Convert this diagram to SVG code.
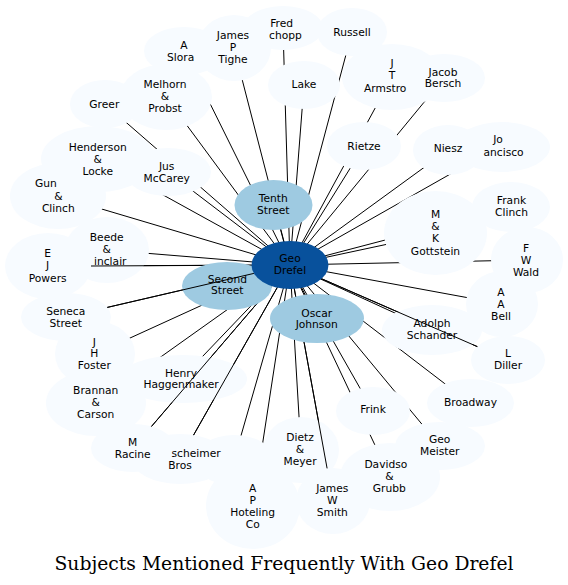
<svg xmlns="http://www.w3.org/2000/svg" width="568" height="585" viewBox="0 0 568 585">
<style>
.e line{stroke:#000;stroke-width:1}
.l ellipse{fill:#f7fbff}
.m ellipse{fill:#9ecae1}
.c ellipse{fill:#08519c}
text{font-family:"DejaVu Sans",sans-serif;font-size:10.7px;fill:#000;text-anchor:middle}
text.s{text-anchor:start}
text.x{text-anchor:end}
.title{font-family:"DejaVu Serif",serif;font-size:18px}
</style>
<rect width="568" height="585" fill="#fff"/>
<g id="edges" class="e">
<line x1="290" y1="265" x2="184" y2="51"/>
<line x1="290" y1="265" x2="234" y2="48"/>
<line x1="290" y1="265" x2="283" y2="28"/>
<line x1="290" y1="265" x2="352" y2="32"/>
<line x1="290" y1="265" x2="304" y2="85"/>
<line x1="290" y1="265" x2="392" y2="77"/>
<line x1="290" y1="265" x2="444" y2="78"/>
<line x1="290" y1="265" x2="364" y2="146"/>
<line x1="290" y1="265" x2="448" y2="150"/>
<line x1="290" y1="265" x2="498" y2="147"/>
<line x1="290" y1="265" x2="511" y2="207"/>
<line x1="290" y1="265" x2="435" y2="234"/>
<line x1="290" y1="265" x2="527" y2="260"/>
<line x1="290" y1="265" x2="502" y2="304"/>
<line x1="290" y1="265" x2="432" y2="330"/>
<line x1="290" y1="265" x2="508" y2="360"/>
<line x1="290" y1="265" x2="470" y2="403"/>
<line x1="290" y1="265" x2="373" y2="411"/>
<line x1="290" y1="265" x2="440" y2="446"/>
<line x1="290" y1="265" x2="390" y2="477"/>
<line x1="290" y1="265" x2="333" y2="501"/>
<line x1="290" y1="265" x2="301" y2="450"/>
<line x1="290" y1="265" x2="253" y2="506"/>
<line x1="290" y1="265" x2="234" y2="460"/>
<line x1="290" y1="265" x2="180" y2="459"/>
<line x1="290" y1="265" x2="133" y2="448"/>
<line x1="290" y1="265" x2="96" y2="403"/>
<line x1="290" y1="265" x2="181" y2="379"/>
<line x1="290" y1="265" x2="95" y2="354"/>
<line x1="290" y1="265" x2="66" y2="317"/>
<line x1="290" y1="265" x2="48" y2="266"/>
<line x1="290" y1="265" x2="107" y2="250"/>
<line x1="290" y1="265" x2="58" y2="196"/>
<line x1="290" y1="265" x2="98" y2="159"/>
<line x1="290" y1="265" x2="168" y2="172"/>
<line x1="290" y1="265" x2="105" y2="104"/>
<line x1="290" y1="265" x2="166" y2="97"/>
<line x1="290" y1="265" x2="274" y2="205"/>
<line x1="290" y1="265" x2="227" y2="286"/>
<line x1="290" y1="265" x2="317" y2="318"/>
</g>
<g id="n_sloran" class="l"><ellipse cx="184" cy="51" rx="40" ry="24"/></g>
<g id="n_tighe" class="l"><ellipse cx="234" cy="48" rx="37" ry="33"/></g>
<g id="n_schopp" class="l"><ellipse cx="283" cy="28" rx="40" ry="22"/></g>
<g id="n_russell" class="l"><ellipse cx="352" cy="32" rx="35" ry="24"/></g>
<g id="n_lake" class="l"><ellipse cx="304" cy="85" rx="36" ry="24"/></g>
<g id="n_armstrong" class="l"><ellipse cx="392" cy="77" rx="50" ry="33"/></g>
<g id="n_bersch" class="l"><ellipse cx="444" cy="78" rx="41" ry="24"/></g>
<g id="n_rietze" class="l"><ellipse cx="364" cy="146" rx="37" ry="24"/></g>
<g id="n_francisco" class="l"><ellipse cx="502" cy="147" rx="48" ry="25"/></g>
<g id="n_niesz" class="l"><ellipse cx="448" cy="150" rx="35" ry="25"/></g>
<g id="n_frankclinch" class="l"><ellipse cx="511" cy="207" rx="39" ry="25"/></g>
<g id="n_gottstein" class="l"><ellipse cx="435.5" cy="233" rx="51.5" ry="42"/></g>
<g id="n_wald" class="l"><ellipse cx="527" cy="260" rx="36" ry="33"/></g>
<g id="n_bell" class="l"><ellipse cx="502" cy="304" rx="36" ry="33"/></g>
<g id="n_schander" class="l"><ellipse cx="432" cy="330" rx="50" ry="25"/></g>
<g id="n_diller" class="l"><ellipse cx="508" cy="360" rx="37" ry="24"/></g>
<g id="n_broadway" class="l"><ellipse cx="470.5" cy="403" rx="43.5" ry="24"/></g>
<g id="n_frink" class="l"><ellipse cx="373" cy="411" rx="37" ry="24"/></g>
<g id="n_meister" class="l"><ellipse cx="440" cy="446" rx="45" ry="24"/></g>
<g id="n_davidson" class="l"><ellipse cx="390" cy="477" rx="50" ry="34"/></g>
<g id="n_dietz" class="l"><ellipse cx="301" cy="450" rx="38" ry="33"/></g>
<g id="n_smith" class="l"><ellipse cx="333" cy="501" rx="37" ry="33"/></g>
<g id="n_hidden" class="l"><ellipse cx="234" cy="460" rx="40" ry="25"/></g>
<g id="n_hoteling" class="l"><ellipse cx="253" cy="506" rx="47" ry="43"/></g>
<g id="n_roscheimer" class="l"><ellipse cx="180" cy="459" rx="48" ry="25"/></g>
<g id="n_racine" class="l"><ellipse cx="133" cy="448" rx="42" ry="24"/></g>
<g id="n_brannan" class="l"><ellipse cx="96" cy="403" rx="50" ry="33"/></g>
<g id="n_haggenmaker" class="l"><ellipse cx="183" cy="379" rx="64" ry="24"/></g>
<g id="n_foster" class="l"><ellipse cx="95" cy="354" rx="40" ry="33"/></g>
<g id="n_seneca" class="l"><ellipse cx="66" cy="317" rx="45" ry="24"/></g>
<g id="n_beede" class="l"><ellipse cx="107" cy="250" rx="42" ry="33"/></g>
<g id="n_powers" class="l"><ellipse cx="48" cy="266" rx="43" ry="33"/></g>
<g id="n_gunn" class="l"><ellipse cx="58" cy="196" rx="48" ry="33"/></g>
<g id="n_henderson" class="l"><ellipse cx="98" cy="159" rx="57" ry="33"/></g>
<g id="n_mccarey" class="l"><ellipse cx="168" cy="172" rx="43" ry="24"/></g>
<g id="n_greer" class="l"><ellipse cx="105" cy="104" rx="35" ry="24"/></g>
<g id="n_melhorn" class="l"><ellipse cx="166" cy="97" rx="46" ry="33"/></g>
<g id="labels">
<text x="184" y="48.8">A</text><text x="167" y="60.8" class="s">Slora</text>
<text x="233" y="38.8">James</text><text x="233" y="50.8">P</text><text x="233" y="62.8">Tighe</text>
<text x="281.7" y="26.5">Fred</text><text x="269" y="38.8" class="s">chopp</text>
<text x="352" y="36">Russell</text>
<text x="304" y="88">Lake</text>
<text x="392" y="66.8">J</text><text x="392" y="78.8">T</text><text x="364" y="91.5" class="s">Armstro</text>
<text x="443" y="75.5">Jacob</text><text x="443" y="87">Bersch</text>
<text x="364" y="149.5">Rietze</text>
<text x="448" y="152">Niesz</text>
<text x="498" y="143">Jo</text><text x="483.5" y="156" class="s">ancisco</text>
<text x="511.5" y="203.8">Frank</text><text x="511.5" y="215.8">Clinch</text>
<text x="435.5" y="217.8">M</text><text x="435.5" y="230.3">&amp;</text><text x="435.5" y="242.3">K</text><text x="435.5" y="254.5">Gottstein</text>
<text x="526" y="251.5">F</text><text x="526" y="263.8">W</text><text x="526" y="275.8">Wald</text>
<text x="501" y="295.5">A</text><text x="501" y="307.8">A</text><text x="501" y="319.8">Bell</text>
<text x="432" y="326.8">Adolph</text><text x="432" y="338.8">Schander</text>
<text x="508" y="356.8">L</text><text x="508" y="368.8">Diller</text>
<text x="470.5" y="405.5">Broadway</text>
<text x="373" y="412.8">Frink</text>
<text x="439.7" y="442.8">Geo</text><text x="439.7" y="454.5">Meister</text>
<text x="364.4" y="467.5" class="s">Davidso</text><text x="389.3" y="480">&amp;</text><text x="389.3" y="492">Grubb</text>
<text x="332.3" y="492">James</text><text x="332.3" y="504">W</text><text x="332.3" y="516">Smith</text>
<text x="300" y="441">Dietz</text><text x="300" y="453">&amp;</text><text x="300" y="465">Meyer</text>
<text x="252.7" y="492">A</text><text x="252.7" y="504">P</text><text x="252.7" y="516">Hoteling</text><text x="252.7" y="528">Co</text>
<text x="220.7" y="457" class="x">scheimer</text><text x="180" y="469">Bros</text>
<text x="132.7" y="445.5">M</text><text x="132.7" y="457.5">Racine</text>
<text x="95.7" y="393.8">Brannan</text><text x="95.7" y="405.5">&amp;</text><text x="95.7" y="417.8">Carson</text>
<text x="181" y="376.5">Henry</text><text x="181" y="388">Haggenmaker</text>
<text x="94.3" y="345.5">J</text><text x="94.3" y="357">H</text><text x="94.3" y="369">Foster</text>
<text x="65.7" y="314.8">Seneca</text><text x="65.7" y="327">Street</text>
<text x="47.7" y="257.3">E</text><text x="47.7" y="269.3">J</text><text x="47.7" y="281.5">Powers</text>
<text x="106.7" y="241">Beede</text><text x="106.7" y="253">&amp;</text><text x="94" y="265" class="s">inclair</text>
<text x="35" y="187" class="s">Gun</text><text x="58.3" y="199.5">&amp;</text><text x="58.3" y="211.5">Clinch</text>
<text x="97.7" y="150.5">Henderson</text><text x="97.7" y="162.8">&amp;</text><text x="97.7" y="174.8">Locke</text>
<text x="166.7" y="169.5">Jus</text><text x="166.7" y="181.5">McCarey</text>
<text x="104.3" y="107.8">Greer</text>
<text x="165" y="87.8">Melhorn</text><text x="165" y="99.8">&amp;</text><text x="165" y="111.8">Probst</text>
</g>
<g id="edges-over" class="e">
<line x1="91" y1="266" x2="251.5" y2="265.2"/>
<line x1="477.3" y1="346.6" x2="321.5" y2="278.7"/>
<line x1="151.5" y1="426.4" x2="271.8" y2="286.2"/>
<line x1="193.6" y1="435" x2="277.2" y2="287.6"/>
<line x1="327.1" y1="468.4" x2="294.3" y2="288.9"/>
</g>
<g id="n_tenth" class="m"><ellipse cx="273.5" cy="205" rx="39" ry="25"/><text x="273.3" y="202">Tenth</text><text x="273.3" y="214">Street</text></g>
<g id="n_second" class="m"><ellipse cx="227" cy="286" rx="45" ry="24"/><text x="227.3" y="282.5">Second</text><text x="227.3" y="294">Street</text></g>
<g id="n_oscar" class="m"><ellipse cx="317" cy="318.5" rx="47" ry="24.5"/><text x="316.7" y="316.5">Oscar</text><text x="316.7" y="328">Johnson</text></g>
<g id="edges-top" class="e"><line x1="107.3" y1="307.4" x2="253.9" y2="273.4"/></g>
<g id="n_drefel" class="c"><ellipse cx="290" cy="265" rx="38.5" ry="24"/><text x="290" y="262">Geo</text><text x="290" y="273.5">Drefel</text></g>
<text class="title" x="284" y="570" textLength="459" lengthAdjust="spacingAndGlyphs">Subjects Mentioned Frequently With Geo Drefel</text>
</svg>
